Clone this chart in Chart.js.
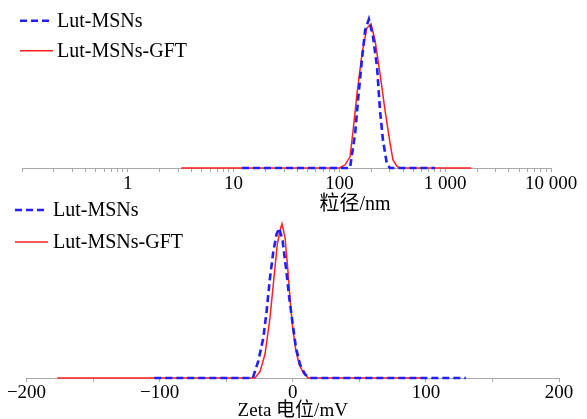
<!DOCTYPE html>
<html>
<head>
<meta charset="utf-8">
<script src="https://cdn.jsdelivr.net/npm/chart.js@4.4.1/dist/chart.umd.min.js"></script>
<style>
  html, body { margin: 0; padding: 0; background: #fff; overflow: hidden; }
  .wrap { position: relative; width: 587px; height: 419px; }
  canvas { position: absolute; left: 0; }
  #sizeChart { top: 0; }
  #zetaChart { top: 195px; }
</style>
</head>
<body>
<div class="wrap">
  <canvas id="sizeChart" width="587" height="220"></canvas>
  <canvas id="zetaChart" width="587" height="240"></canvas>
</div>
<script>
// particle size distribution (nm vs intensity)
const seriesNames = ['Lut-MSNs', 'Lut-MSNs-GFT'];
const sizeBlue = [12, 20, 35, 60, 100, 126, 141, 150, 164, 175, 190, 208, 227, 242, 258, 282, 302, 400, 550, 800];
const intensityBlue = [0, 0, 0, 0, 0, 0, 21.9, 42.5, 69, 86, 93, 82, 63, 36, 17.5, 2, 0, 0, 0, 0];
const sizeRed = [3.2, 6, 12, 25, 50, 100, 113, 126, 135, 147, 164, 182, 199, 217, 242, 270, 301, 321, 351, 374, 600, 1000, 1760];
const intensityRed = [0, 0, 0, 0, 0, 0, 2, 7, 24, 47, 72, 87.5, 90, 80, 59, 36, 15.6, 5, 1, 0, 0, 0, 0];

// zeta potential distribution (mV vs intensity)
const zetaBlue = [-104, -60, -30, -25.9, -22.1, -19.6, -17.1, -14.6, -12.1, -10.1, -7.6, -5.1, -2.6, 0, 2.4, 5.4, 9.2, 13, 60, 130];
const countsBlue = [0, 0, 0, 10.6, 25, 42, 62.7, 79, 90, 93.7, 85.6, 69, 50, 33.5, 19, 8.5, 2.3, 0, 0, 0];
const zetaRed = [-177, -100, -28.4, -24.6, -20.8, -17.1, -14.1, -11.6, -9.6, -8.1, -5.8, -3.8, -2.1, 0, 2.4, 4.9, 7.9, 11.7, 50, 101];
const countsRed = [0, 0, 0, 4, 15, 37.7, 62.7, 83.6, 92, 96.4, 87.7, 69, 50, 31, 17, 8.5, 3.3, 0, 0, 0];

// axis ticks
const sizeTicks = [0.1, 0.2, 0.3, 0.4, 0.5, 0.6, 0.7, 0.8, 0.9, 1, 2, 3, 4, 5, 6, 7, 8, 9, 10, 20, 30, 40, 50, 60, 70, 80, 90,
  100, 200, 300, 400, 500, 600, 700, 800, 900, 1000, 2000, 3000, 4000, 5000, 6000, 7000, 8000, 9000, 10000];
const sizeMajor = [1, 10, 100, 1000, 10000];
const sizeLabels = ['1', '10', '100', '1 000', '10 000'];
const zetaMajor = [-200, -100, 0, 100, 200];
const zetaLabels = ['\u2212200', '\u2212100', '0', '100', '200'];

const FONT = '"Liberation Serif", "Times New Roman", "Noto Sans CJK SC", serif';
const BLUE = '#1f1fff';
const RED = '#ff2020';
const AXIS = '#a8a8a8';

const zip = (xs, ys) => xs.map((x, i) => ({ x, y: ys[i] }));

// small legend drawn inside the plot, top-left
const innerLegend = {
  id: 'innerLegend',
  afterDraw(chart, args, opts) {
    const { ctx } = chart;
    ctx.save();
    chart.data.datasets.forEach((ds, i) => {
      const y = opts.y + i * opts.gap;
      ctx.beginPath();
      ctx.strokeStyle = ds.borderColor;
      ctx.lineWidth = ds.borderWidth;
      ctx.setLineDash(ds.borderDash || []);
      ctx.moveTo(opts.x, y);
      ctx.lineTo(opts.x + 33, y);
      ctx.stroke();
      ctx.setLineDash([]);
      ctx.fillStyle = '#000';
      ctx.font = '20px ' + FONT;
      ctx.textBaseline = 'middle';
      ctx.fillText(ds.label, opts.x + opts.textGap, y + 1);
    });
    ctx.restore();
  }
};

// axis caption placed off-centre (the size axis title sits right of the middle)
const axisCaption = {
  id: 'axisCaption',
  afterDraw(chart, args, opts) {
    if (!opts.text) return;
    const { ctx } = chart;
    ctx.save();
    ctx.fillStyle = '#000';
    ctx.font = opts.size + 'px ' + FONT;
    ctx.textAlign = 'center';
    ctx.textBaseline = 'middle';
    ctx.fillText(opts.text, opts.x, opts.y);
    ctx.restore();
  }
};

function lineSet(label, data, color, dashed) {
  return {
    label,
    data,
    borderColor: color,
    borderWidth: dashed ? 2.6 : 1.5,
    borderDash: dashed ? [7, 4] : [],
    pointRadius: 0,
    tension: 0,
    fill: false,
    clip: false
  };
}

/* eslint-disable-next-line */
new Chart(document.getElementById('sizeChart'), {
  type: 'line',
  data: {
    datasets: [
      lineSet(seriesNames[0], zip(sizeBlue, intensityBlue), BLUE, true),
      lineSet(seriesNames[1], zip(sizeRed, intensityRed), RED, false)
    ]
  },
  plugins: [innerLegend, axisCaption],
  options: {
    responsive: false,
    animation: false,
    layout: { padding: { left: 22, right: 36, top: 8, bottom: 0 } },
    plugins: {
      legend: { display: false },
      tooltip: { enabled: false },
      innerLegend: { x: 20, y: 20.7, gap: 30, textGap: 37 },
      axisCaption: { text: '粒径/nm', x: 355, y: 205, size: 20 }
    },
    scales: {
      x: {
        type: 'logarithmic',
        min: 0.1,
        max: 10000,
        afterBuildTicks: scale => { scale.ticks = sizeTicks.map(value => ({ value })); },
        afterFit: scale => { scale.height = 52; },
        ticks: {
          autoSkip: false,
          maxRotation: 0,
          padding: 1,
          color: '#000',
          font: { family: FONT, size: 19 },
          callback: value => {
            const k = sizeMajor.indexOf(value);
            return k >= 0 ? sizeLabels[k] : '';
          }
        },
        grid: { drawOnChartArea: false, tickLength: 4, color: AXIS },
        border: { color: AXIS, width: 1 },
        title: { display: false }
      },
      y: { display: false, min: 0, max: 100 }
    }
  }
});

/* eslint-disable-next-line */
new Chart(document.getElementById('zetaChart'), {
  type: 'line',
  data: {
    datasets: [
      lineSet(seriesNames[0], zip(zetaBlue, countsBlue), BLUE, true),
      lineSet(seriesNames[1], zip(zetaRed, countsRed), RED, false)
    ]
  },
  plugins: [innerLegend],
  options: {
    responsive: false,
    animation: false,
    layout: { padding: { left: 26.5, right: 28, top: 23, bottom: 0 } },
    plugins: {
      legend: { display: false },
      tooltip: { enabled: false },
      innerLegend: { x: 15, y: 15, gap: 32, textGap: 38 }
    },
    scales: {
      x: {
        type: 'linear',
        min: -200,
        max: 200,
        afterFit: scale => { scale.height = 57; },
        ticks: {
          stepSize: 50,
          autoSkip: false,
          maxRotation: 0,
          padding: 0,
          color: '#000',
          font: { family: FONT, size: 19 },
          callback: value => {
            const k = zetaMajor.indexOf(value);
            return k >= 0 ? zetaLabels[k] : '';
          }
        },
        grid: { drawOnChartArea: false, tickLength: 4, color: AXIS },
        border: { color: AXIS, width: 1 },
        title: {
          display: true,
          text: 'Zeta 电位/mV',
          color: '#000',
          font: { family: FONT, size: 19 },
          padding: { top: 0, bottom: 13 }
        }
      },
      y: { display: false, min: 0, max: 100 }
    }
  }
});
</script>
</body>
</html>
